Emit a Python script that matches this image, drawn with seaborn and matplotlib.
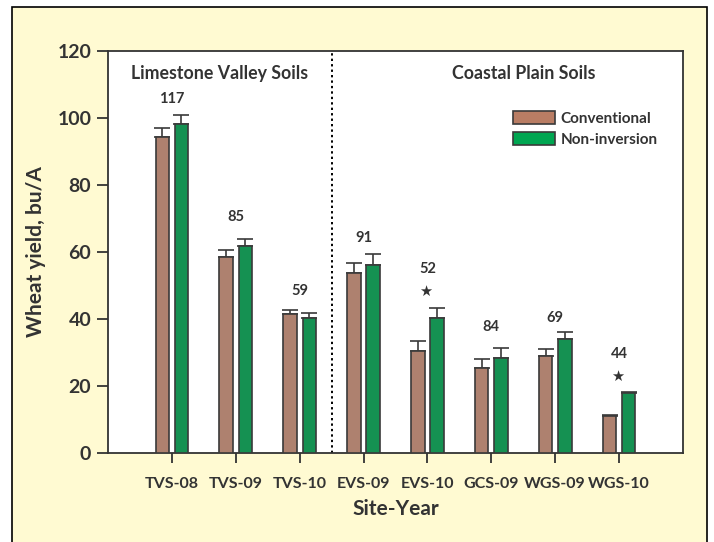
import matplotlib
matplotlib.use("Agg")
import matplotlib.pyplot as plt
from matplotlib.patches import Rectangle, Patch
import seaborn as sns
import pandas as pd

sites = ["TVS-08", "TVS-09", "TVS-10", "EVS-09", "EVS-10", "GCS-09", "WGS-09", "WGS-10"]
conventional = [94.2, 58.6, 41.4, 53.6, 30.5, 25.4, 29.0, 10.9]
conv_err = [2.8, 1.9, 1.4, 3.0, 2.8, 2.8, 1.9, 0.4]
non_inversion = [98.1, 61.9, 40.4, 56.0, 40.4, 28.5, 34.1, 17.8]
noninv_err = [2.8, 1.9, 1.5, 3.4, 2.8, 2.8, 2.0, 0.4]
top_labels = ["117", "85", "59", "91", "52", "84", "69", "44"]
label_y = [105.8, 70.5, 48.4, 64.2, 54.9, 37.7, 40.2, 29.5]
starred = ["EVS-10", "WGS-10"]
treatments = ["Conventional", "Non-inversion"]

brown = "#B97D64"
green = "#00A651"
yellow = "#FFFAD2"
dark = "#333333"

df = pd.DataFrame({
    "site": sites * 2,
    "treatment": [treatments[0]] * len(sites) + [treatments[1]] * len(sites),
    "yield": conventional + non_inversion,
})

sns.set_style("white")
plt.rcParams["font.family"] = ["Lato", "DejaVu Sans"]

fig = plt.figure(figsize=(7.14, 5.42), dpi=100)
fig.patch.set_facecolor("white")
# pale yellow panel with a black frame, running off the bottom edge
fig.patches.append(Rectangle((12 / 714, -0.1), (707 - 12) / 714, 1.1 - 7 / 542,
                             transform=fig.transFigure, facecolor=yellow,
                             edgecolor="black", lw=1.2, zorder=-5))
ax = fig.add_axes([108 / 714, 1 - 453 / 542, 575 / 714, 402 / 542])
ax.set_zorder(2)
ax.set_facecolor("white")

sns.barplot(data=df, x="site", y="yield", hue="treatment", order=sites,
            hue_order=treatments, palette=[brown, green], width=0.6, gap=0.3,
            edgecolor="#3a3a3a", linewidth=1.2, legend=False, ax=ax, zorder=3)

for cont, errs in zip(ax.containers, [conv_err, noninv_err]):
    xs = [b.get_x() + b.get_width() / 2 for b in cont]
    ys = [b.get_height() for b in cont]
    ax.errorbar(xs, ys, yerr=[[0] * len(errs), errs], fmt="none",
                ecolor="#3a3a3a", elinewidth=1.2, capsize=6, capthick=1.2, zorder=2)

for i, (lab, ly) in enumerate(zip(top_labels, label_y)):
    ax.text(i, ly, lab, ha="center", va="center", fontsize=10.5,
            fontweight="bold", color=dark)
    if sites[i] in starred:
        ax.text(i - 0.03, ly - 6.6, "\u2605", ha="center", va="center", fontsize=10.5,
                color=dark, family=["DejaVu Sans"])

ax.axvline(2.5, color="black", ls=(0, (1.2, 1.6)), lw=1.4)
ax.text(0.75, 113.4, "Limestone Valley Soils", ha="center", va="center",
        fontsize=12.8, fontweight="bold", color=dark)
ax.text(5.5, 113.4, "Coastal Plain Soils", ha="center", va="center",
        fontsize=12.8, fontweight="bold", color=dark)

ax.set_xlim(-1, 8)
ax.set_ylim(0, 120)
ax.set_yticks([0, 20, 40, 60, 80, 100, 120])
for s in ax.spines.values():
    s.set_color(dark)
    s.set_linewidth(1.3)
ax.tick_params(axis="y", direction="out", length=8, width=1.3, color=dark,
               labelsize=14, pad=4, left=True)
ax.tick_params(axis="x", direction="out", length=7, width=1.3, color=dark,
               labelsize=11.5, pad=10, bottom=True)
for t in ax.get_yticklabels():
    t.set_fontweight("bold")
    t.set_color(dark)
for t in ax.get_xticklabels():
    t.set_fontweight("bold")
    t.set_color(dark)

ax.set_xlabel("Site-Year", fontsize=15, fontweight="bold", color=dark, labelpad=6)
ax.set_ylabel("Wheat yield, bu/A", fontsize=15, fontweight="bold", color=dark, labelpad=8)

handles = [Patch(facecolor=brown, edgecolor="#3a3a3a", lw=1.2),
           Patch(facecolor=green, edgecolor="#3a3a3a", lw=1.2)]
leg = ax.legend(handles, treatments, loc="upper right", bbox_to_anchor=(0.98, 0.885),
                frameon=False, fontsize=11, handlelength=2.8, handleheight=0.9,
                handletextpad=0.35, labelspacing=0.45)
for t in leg.get_texts():
    t.set_fontweight("bold")
    t.set_color(dark)

fig.savefig("out.png", dpi=100, facecolor=fig.get_facecolor())
